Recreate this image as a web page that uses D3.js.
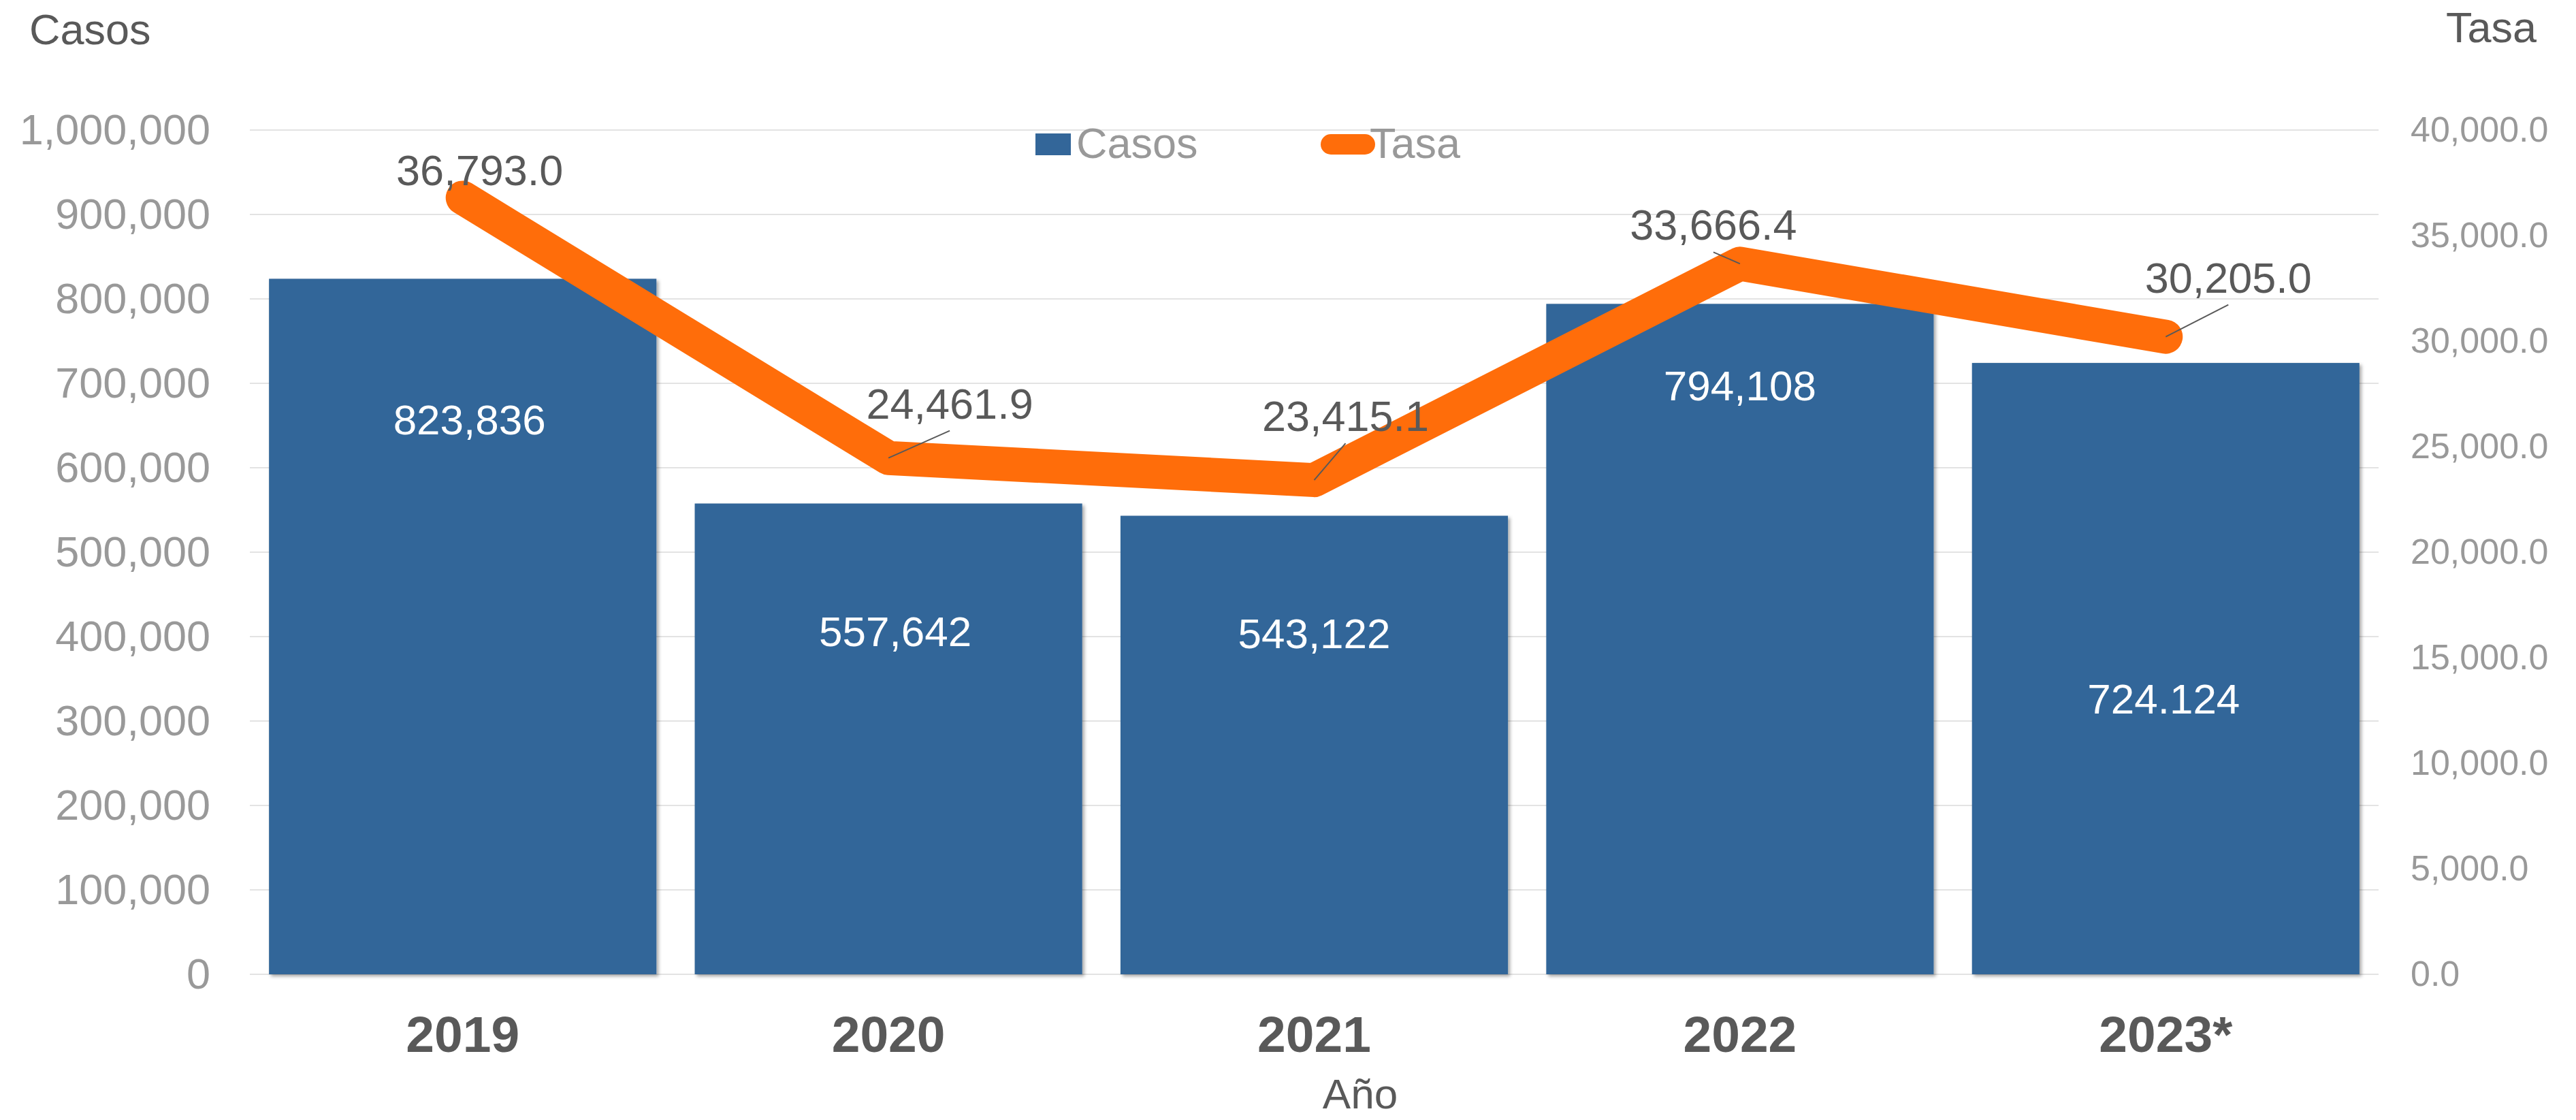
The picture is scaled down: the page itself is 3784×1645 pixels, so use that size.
<!DOCTYPE html>
<html>
<head>
<meta charset="utf-8">
<script src="https://cdn.jsdelivr.net/npm/d3@7"></script>
<style>
  html, body { margin: 0; padding: 0; background: #fff; }
  svg { display: block; font-family: "Liberation Sans", Arial, sans-serif; }
</style>
</head>
<body>
<svg id="chart" width="3784" height="1645"></svg>
<script>
// ---- data ----
const years = ["2019", "2020", "2021", "2022", "2023*"];
const casos = [823836, 557642, 543122, 794108, 724124];
const casosLabels = ["823,836", "557,642", "543,122", "794,108", "724.124"];
const tasa = [36793.0, 24461.9, 23415.1, 33666.4, 30205.0];
const leftTicks = [0, 100000, 200000, 300000, 400000, 500000, 600000, 700000, 800000, 900000, 1000000];
const rightTicks = [0, 5000, 10000, 15000, 20000, 25000, 30000, 35000, 40000];

// ---- layout (label placements as in the reference) ----
const barLabelBaseline = [638, 949, 952, 588, 1048];
const barLabelDx = [10, 10, 0, 0, -3];
const tasaLabelOffset = [[25, -18, false], [90, -58, true], [46, -72, true], [-39, -35, true], [92, -65, true]];

const plotL = 367, plotR = 3494, plotT = 191, plotB = 1431;
const barColor = "#336699", lineColor = "#ff6d0a";
const darkText = "#595959", grayText = "#999999";

const svg = d3.select("#chart");

const defs = svg.append("defs");
const f = defs.append("filter").attr("id", "shadow").attr("x", "-5%").attr("y", "-5%").attr("width", "115%").attr("height", "115%");
f.append("feDropShadow").attr("dx", 3).attr("dy", 3).attr("stdDeviation", 2.5)
  .attr("flood-color", "#000").attr("flood-opacity", 0.35);

const x = d3.scaleBand().domain(years).range([plotL, plotR]).paddingInner(0.09).paddingOuter(0.045);
const yL = d3.scaleLinear().domain([0, 1000000]).range([plotB, plotT]);
const yR = d3.scaleLinear().domain([0, 40000]).range([plotB, plotT]);

// gridlines
svg.append("g").selectAll("line").data(leftTicks).join("line")
  .attr("x1", plotL).attr("x2", plotR)
  .attr("y1", d => yL(d)).attr("y2", d => yL(d))
  .attr("stroke", "#e3e3e3").attr("stroke-width", 2);

// left axis
const gL = svg.append("g").attr("transform", `translate(${plotL},0)`)
  .call(d3.axisLeft(yL).tickValues(leftTicks).tickSize(0).tickPadding(58).tickFormat(d3.format(",")));
gL.select(".domain").remove();
gL.selectAll("text").attr("font-size", 63).attr("fill", grayText).attr("font-family", "Liberation Sans, Arial, sans-serif");

// right axis
const gR = svg.append("g").attr("transform", `translate(${plotR},0)`)
  .call(d3.axisRight(yR).tickValues(rightTicks).tickSize(0).tickPadding(47).tickFormat(d3.format(",.1f")));
gR.select(".domain").remove();
gR.selectAll("text").attr("font-size", 52).attr("fill", grayText).attr("font-family", "Liberation Sans, Arial, sans-serif");

// bottom axis
const gB = svg.append("g").attr("transform", `translate(0,${plotB})`)
  .call(d3.axisBottom(x).tickSize(0));
gB.select(".domain").remove();
gB.selectAll("text").attr("y", 114).attr("dy", 0)
  .attr("font-size", 75).attr("font-weight", "bold").attr("fill", darkText)
  .attr("font-family", "Liberation Sans, Arial, sans-serif");

// bars
svg.append("g").selectAll("rect").data(casos).join("rect")
  .attr("x", (d, i) => x(years[i]))
  .attr("width", x.bandwidth())
  .attr("y", d => yL(d))
  .attr("height", d => yL(0) - yL(d))
  .attr("fill", barColor)
  .attr("filter", "url(#shadow)");

// bar labels
svg.append("g").selectAll("text").data(casos).join("text")
  .attr("x", (d, i) => x(years[i]) + x.bandwidth() / 2 + barLabelDx[i])
  .attr("y", (d, i) => barLabelBaseline[i])
  .attr("text-anchor", "middle")
  .attr("font-size", 62).attr("fill", "#ffffff")
  .text((d, i) => casosLabels[i]);

// line
const cx = i => x(years[i]) + x.bandwidth() / 2;
const line = d3.line().x((d, i) => cx(i)).y(d => yR(d));
svg.append("path").datum(tasa)
  .attr("d", line)
  .attr("fill", "none").attr("stroke", lineColor).attr("stroke-width", 50)
  .attr("stroke-linejoin", "round").attr("stroke-linecap", "round");

// line labels with leader lines
const fmtT = d3.format(",.1f");
const gT = svg.append("g");
tasa.forEach((v, i) => {
  const px = cx(i), py = yR(v);
  const [dx, dy, leader] = tasaLabelOffset[i];
  if (leader) {
    gT.append("line")
      .attr("x1", px + dx).attr("y1", py + dy + 18)
      .attr("x2", px).attr("y2", py)
      .attr("stroke", darkText).attr("stroke-width", 2);
  }
  gT.append("text")
    .attr("x", px + dx).attr("y", py + dy)
    .attr("text-anchor", "middle")
    .attr("font-size", 63).attr("fill", darkText)
    .text(fmtT(v));
});

// legend
const lg = svg.append("g");
lg.append("rect").attr("x", 1521).attr("y", 196).attr("width", 52).attr("height", 32).attr("fill", barColor);
lg.append("text").attr("x", 1581).attr("y", 232).attr("font-size", 63).attr("fill", grayText).text("Casos");
lg.append("line").attr("x1", 1955).attr("x2", 2005).attr("y1", 212).attr("y2", 212)
  .attr("stroke", lineColor).attr("stroke-width", 30).attr("stroke-linecap", "round");
lg.append("text").attr("x", 2012).attr("y", 232).attr("font-size", 63).attr("fill", grayText).text("Tasa");

// axis titles
svg.append("text").attr("x", 43).attr("y", 65).attr("font-size", 63).attr("fill", darkText).text("Casos");
svg.append("text").attr("x", 3593).attr("y", 62).attr("font-size", 63).attr("fill", darkText).text("Tasa");
svg.append("text").attr("x", 1998).attr("y", 1628).attr("text-anchor", "middle").attr("font-size", 62).attr("fill", darkText).text("Año");
</script>
</body>
</html>
